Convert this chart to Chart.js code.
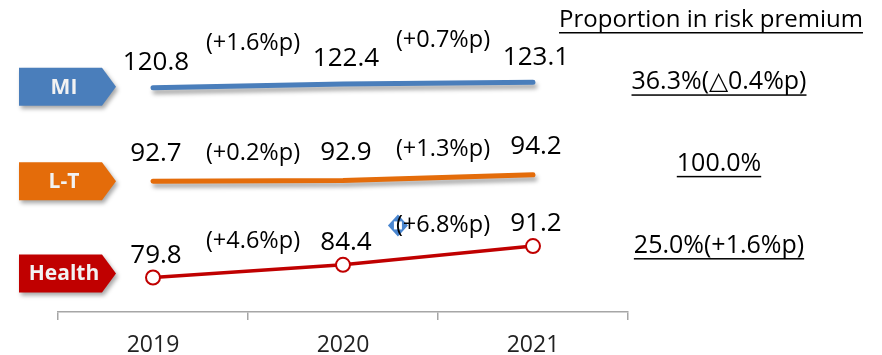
<!DOCTYPE html>
<html>
<head>
<meta charset="utf-8">
<script src="https://cdn.jsdelivr.net/npm/chart.js@4.4.0/dist/chart.umd.min.js"></script>
<style>
    html, body { margin: 0; padding: 0; background: #fff; }
    #wrap { width: 882px; height: 355px; position: relative; }
</style>
</head>
<body>
<div id="wrap"><canvas id="riskChart"></canvas></div>
<script>
let years = ['2019', '2020', '2021'];
let seriesNames = ['MI', 'L-T', 'Health'];
let miValues = [120.8, 122.4, 123.1];
let ltValues = [92.7, 92.9, 94.2];
let healthValues = [79.8, 84.4, 91.2];
let miChanges = ['(+1.6%p)', '(+0.7%p)'];
let ltChanges = ['(+0.2%p)', '(+1.3%p)'];
let healthChanges = ['(+4.6%p)', '(+6.8%p)'];
let shareTitle = 'Proportion in risk premium';
let shareLabels = ['36.3%(△0.4%p)', '100.0%', '25.0%(+1.6%p)'];

let seriesColors = ['#4a7ebb', '#e46c0a', '#c00000'];
let fontFamily = "'Open Sans', 'Noto Sans', sans-serif";
let allChanges = [miChanges, ltChanges, healthChanges];
// per series offsets (px) for the text around the lines
let valueOffsets = [-25, -28, -22];
let changeOffsets = [-43, -28, -30];
let tagOffsets = [-1, 0, -4];
let shareOffsets = [0, -11, 0];

Chart.defaults.plugins.legend.display = false;
Chart.defaults.plugins.tooltip.enabled = false;

let underline = (ctx, text, cx, cy) => {
    let w = ctx.measureText(text).width;
    ctx.fillText(text, cx, cy);
    ctx.fillRect(cx - w / 2, cy + 12, w, 1.5);
};

const shadowPlugin = {
    id: 'lineShadow',
    beforeDatasetDraw(chart, args) {
        const ctx = chart.ctx;
        ctx.save();
        if (args.index < 2) {
            ctx.shadowColor = 'rgba(0,0,0,0.35)';
            ctx.shadowBlur = 4;
            ctx.shadowOffsetX = 2;
            ctx.shadowOffsetY = 4;
        }
    },
    afterDatasetDraw(chart) {
        chart.ctx.restore();
    }
};

const textPlugin = {
    id: 'riskText',
    afterDatasetsDraw(chart) {
        const ctx = chart.ctx;
        ctx.save();
        ctx.textAlign = 'center';
        ctx.textBaseline = 'middle';
        chart.data.datasets.forEach((ds, i) => {
            let pts = chart.getDatasetMeta(i).data;
            // values above points
            ctx.fillStyle = '#000';
            ctx.font = '26px ' + fontFamily;
            pts.forEach((p, j) => {
                ctx.fillText(ds.data[j].toFixed(1), p.x + 3, p.y + valueOffsets[i]);
            });
            // change between years
            ctx.font = '23.5px ' + fontFamily;
            allChanges[i].forEach((c, j) => {
                let mx = (pts[j].x + pts[j + 1].x) / 2 + 5;
                let my = (pts[j].y + pts[j + 1].y) / 2 + changeOffsets[i];
                if (i === 2 && j === 1) {
                    // little selection handle left over in the source slide
                    let hx = mx - ctx.measureText(c).width / 2 + 2;
                    ctx.fillStyle = '#4a86d0';
                    ctx.beginPath();
                    ctx.moveTo(hx - 10, my);
                    ctx.lineTo(hx, my - 11);
                    ctx.lineTo(hx + 10, my);
                    ctx.lineTo(hx, my + 11);
                    ctx.closePath();
                    ctx.fill();
                    ctx.fillStyle = '#fff';
                    ctx.fillRect(hx - 4, my - 4, 8, 8);
                    ctx.fillStyle = '#000';
                }
                ctx.fillText(c, mx, my);
            });
            // tag on the left
            let ty = pts[0].y + tagOffsets[i];
            ctx.save();
            ctx.shadowColor = 'rgba(0,0,0,0.35)';
            ctx.shadowBlur = 4;
            ctx.shadowOffsetX = 2;
            ctx.shadowOffsetY = 3;
            ctx.fillStyle = seriesColors[i];
            ctx.beginPath();
            ctx.moveTo(19, ty - 19);
            ctx.lineTo(102, ty - 19);
            ctx.lineTo(116, ty);
            ctx.lineTo(102, ty + 19);
            ctx.lineTo(19, ty + 19);
            ctx.closePath();
            ctx.fill();
            ctx.restore();
            ctx.fillStyle = '#f2f2f2';
            ctx.font = 'bold 21px ' + fontFamily;
            ctx.fillText(ds.label, 64, ty + 1);
            // share on the right
            ctx.fillStyle = '#000';
            ctx.font = '25px ' + fontFamily;
            underline(ctx, shareLabels[i], 719, pts[pts.length - 1].y + shareOffsets[i]);
        });
        ctx.font = '24px ' + fontFamily;
        underline(ctx, shareTitle, 711, 20);
        ctx.restore();
    }
};

const ctx = document.getElementById('riskChart');
const riskChart = new Chart(ctx, {
    type: 'line',
    data: {
        labels: years,
        datasets: [{
            label: seriesNames[0],
            data: miValues,
            yAxisID: 'yMI',
            borderColor: seriesColors[0],
            borderWidth: 5,
            borderCapStyle: 'round',
            pointRadius: 0
        }, {
            label: seriesNames[1],
            data: ltValues,
            yAxisID: 'yLT',
            borderColor: seriesColors[1],
            borderWidth: 5,
            borderCapStyle: 'round',
            pointRadius: 0
        }, {
            label: seriesNames[2],
            data: healthValues,
            yAxisID: 'yH',
            borderColor: seriesColors[2],
            borderWidth: 3.5,
            pointRadius: 7,
            pointBorderWidth: 2,
            pointBackgroundColor: '#fff',
            pointBorderColor: seriesColors[2]
        }]
    },
    options: {
        responsive: true,
        maintainAspectRatio: false,
        animation: false,
        layout: {
            padding: { left: 58, right: 254, top: 12, bottom: 0 }
        },
        scales: {
            x: {
                offset: true,
                afterFit: (scale) => { scale.height = 43; },
                grid: {
                    offset: true,
                    drawOnChartArea: false,
                    tickLength: 8,
                    color: '#a6a6a6',
                    lineWidth: 1.5
                },
                border: { color: '#a6a6a6', width: 1.5 },
                ticks: {
                    color: '#222',
                    padding: 14,
                    font: { family: fontFamily, size: 23, lineHeight: 1 }
                }
            },
            yMI: { display: false, min: 27.7, max: 152.3 },
            yLT: { display: false, min: 62.2, max: 132.2 },
            yH: { display: false, min: 67.3, max: 176.0 }
        }
    },
    plugins: [shadowPlugin, textPlugin]
});
</script>
</body>
</html>
